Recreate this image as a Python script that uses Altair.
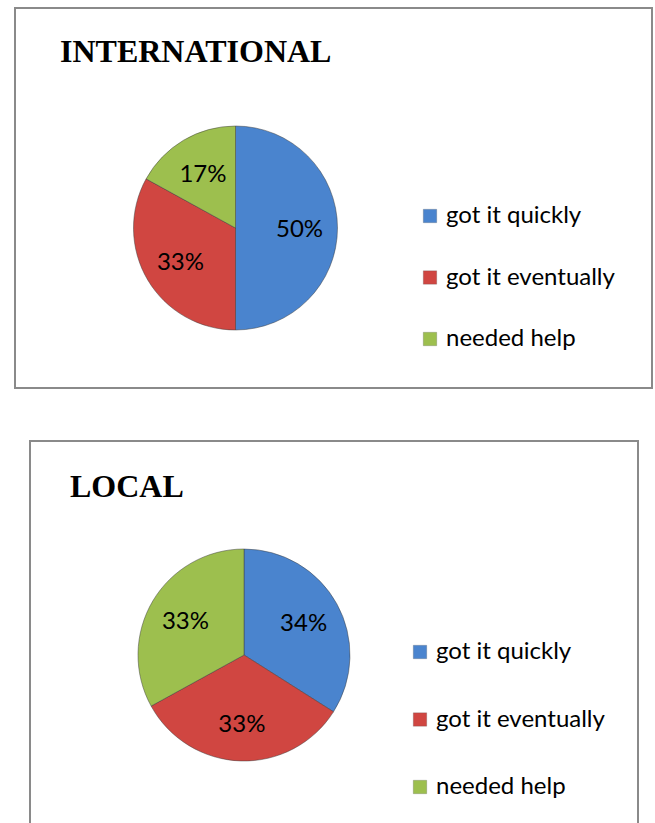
import altair as alt
import pandas as pd

categories = ["got it quickly", "got it eventually", "needed help"]
colors = ["#4A84CE", "#D04641", "#9DBF4E"]
intl_values = [50, 33, 17]
local_values = [34, 33, 33]
titles = ["INTERNATIONAL", "LOCAL"]

W, H = 655, 823

def make_df(values):
    return pd.DataFrame({
        "category": categories,
        "value": values,
        "idx": list(range(len(categories))),
        "label": [f"{v}%" for v in values],
    })

df_intl = make_df(intl_values)
df_local = make_df(local_values)

color_scale = alt.Scale(domain=categories, range=colors)
FONT = "Lato"


def panel(df, title, box, cx, cy, r, lab_r, title_x, title_y, leg_x, leg_y0, leg_y1):
    x0, y0, x1, y1 = box
    frame = alt.Chart(pd.DataFrame({"k": [0]})).mark_rect(
        fill="white", stroke="#8a8a8a", strokeWidth=2
    ).encode(x=alt.value(x0), x2=alt.value(x1), y=alt.value(y0), y2=alt.value(y1))

    ttl = alt.Chart(pd.DataFrame({"t": [title]})).mark_text(
        font="Liberation Serif", fontWeight="bold", fontSize=32,
        align="left", baseline="alphabetic", color="black"
    ).encode(text="t:N", x=alt.value(title_x), y=alt.value(title_y))

    arcs = alt.Chart(df).mark_arc(
        outerRadius=r, stroke="#3a3a3a", strokeWidth=0.8, strokeOpacity=0.6
    ).encode(
        theta=alt.Theta("value:Q", stack=True, scale=alt.Scale(domain=[0, 100])),
        color=alt.Color("category:N", scale=color_scale, legend=None),
        order=alt.Order("idx:Q"),
        x=alt.value(cx), y=alt.value(cy),
    )

    labels = alt.Chart(df).mark_text(
        radius=lab_r, font=FONT, fontSize=24, color="black",
        align="center", baseline="middle"
    ).encode(
        theta=alt.Theta("value:Q", stack=True, scale=alt.Scale(domain=[0, 100])),
        order=alt.Order("idx:Q"),
        text="label:N",
        x=alt.value(cx), y=alt.value(cy + 2),
    )

    ysc = alt.Scale(domain=categories, range=[leg_y0, leg_y1], type="point", padding=0)
    squares = alt.Chart(df).mark_square(size=180, opacity=1, stroke="#555555", strokeWidth=0.5, strokeOpacity=0.5).encode(
        y=alt.Y("category:N", scale=ysc, axis=None, sort=categories),
        x=alt.value(leg_x),
        color=alt.Color("category:N", scale=color_scale, legend=None),
    )
    texts = alt.Chart(df).mark_text(
        font=FONT, fontSize=24, align="left", baseline="middle", color="black"
    ).encode(
        y=alt.Y("category:N", scale=ysc, axis=None, sort=categories),
        x=alt.value(leg_x + 16),
        text="category:N",
    )
    leg = alt.layer(squares, texts)
    return [frame, ttl, arcs, labels, leg]


p1 = panel(df_intl, titles[0], (15, 8, 652, 388), 235.5, 228, 102, 64, 60, 62, 430, 216, 339)
p2 = panel(df_local, titles[1], (30, 441, 638, 840), 244, 655, 106, 68, 70, 497, 420, 652, 787)

chart = alt.layer(*p1[:4], p1[4], *p2[:4], p2[4]).resolve_scale(y="independent").properties(
    width=W, height=H, padding=0, autosize=alt.AutoSizeParams(type="none")
).configure_view(stroke=None)

chart.save("out.html", embed_options={"renderer": "svg", "actions": False})
